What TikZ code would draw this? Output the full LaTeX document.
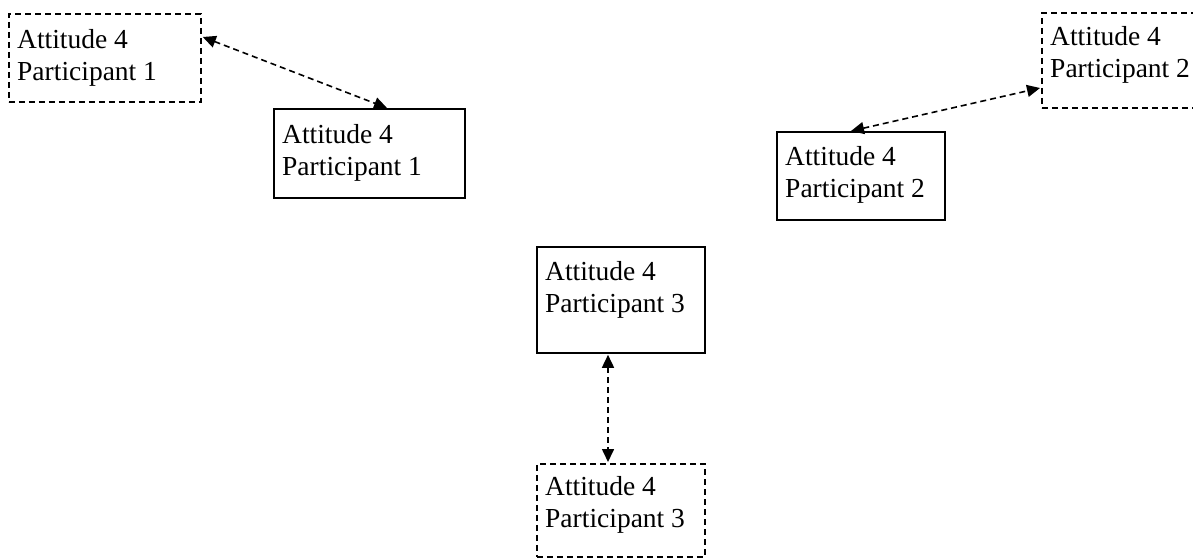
\documentclass[tikz,border=0pt]{standalone}
\usepackage{fontspec}
\setmainfont{Liberation Serif}
\usetikzlibrary{arrows.meta,calc}
\begin{document}
\begin{tikzpicture}[x=1pt,y=-1pt,
  solidbox/.style={draw, line width=1.8pt, rectangle, inner sep=0pt, anchor=north west},
  dashbox/.style={solidbox, dash pattern=on 6pt off 4pt},
  txt/.style={anchor=north west, inner sep=0pt, align=left,
    font=\fontsize{27.5}{32}\selectfont},
  link/.style={line width=1.6pt, dash pattern=on 6pt off 4pt,
    {Triangle[length=13pt,width=12pt]}-{Triangle[length=13pt,width=12pt]}}]
\useasboundingbox (0,0) rectangle (1193,559);
\clip (0,0) rectangle (1193,559);

% participant 1
\node[dashbox, minimum width=192pt, minimum height=88pt] (d1) at (8,13) {};
\node[txt] (d1t) at ($(d1.north west)+(9,0)$) {\rule{0pt}{35pt}Attitude 4\\Participant 1};
\node[solidbox, minimum width=191pt, minimum height=89pt] (s1) at (273,108) {};
\node[txt] (s1t) at ($(s1.north west)+(9,0)$) {\rule{0pt}{35pt}Attitude 4\\Participant 1};

% participant 2
\node[dashbox, minimum width=185pt, minimum height=95pt] (d2) at (1041,12) {};
\node[txt] (d2t) at ($(d2.north west)+(9,0)$) {\rule{0pt}{33pt}Attitude 4\\Participant 2};
\node[solidbox, minimum width=168pt, minimum height=88pt] (s2) at (776,131) {};
\node[txt] (s2t) at ($(s2.north west)+(9,0)$) {\rule{0pt}{34pt}Attitude 4\\Participant 2};

% participant 3
\node[solidbox, minimum width=168pt, minimum height=106pt] (s3) at (536,246) {};
\node[txt] (s3t) at ($(s3.north west)+(9,0)$) {\rule{0pt}{34pt}Attitude 4\\Participant 3};
\node[dashbox, minimum width=168pt, minimum height=93pt] (d3) at (536,463) {};
\node[txt] (d3t) at ($(d3.north west)+(9,0)$) {\rule{0pt}{32pt}Attitude 4\\Participant 3};

% links
\draw[link] ($(d1.north east)+(1,24)$) -- ($(s1.north west)+(114,0)$);
\draw[link] ($(s2.north west)+(75,0)$) -- ($(d2.north west)+(-1,76)$);
\draw[link] ($(s3.south west)+(72,1)$) -- ($(d3.north west)+(72,-1)$);
\end{tikzpicture}
\end{document}
